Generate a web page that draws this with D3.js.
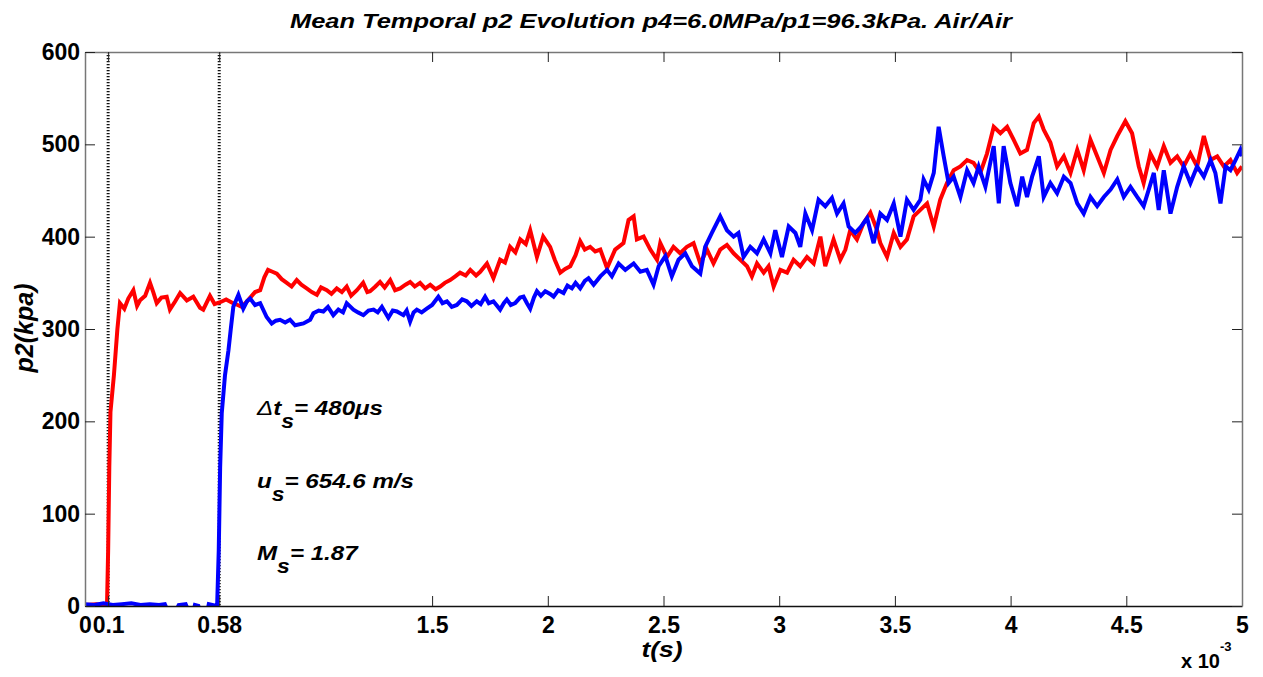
<!DOCTYPE html>
<html>
<head>
<meta charset="utf-8">
<script src="https://cdn.jsdelivr.net/npm/d3@7"></script>
<style>
  body { margin: 0; background: #fff; }
  svg { display: block; font-family: "Liberation Sans", Arial, sans-serif; }
  .tick text { font-size: 23px; font-weight: bold; fill: #000; }
</style>
</head>
<body>
<svg id="chart" width="1263" height="677"></svg>
<script>
// time in ms (axis shows x 10^-3 s), pressure in kPa
const redT = [0, 0.05, 0.095, 0.100, 0.105, 0.110, 0.125, 0.140, 0.151, 0.170, 0.187, 0.209, 0.225, 0.238, 0.260, 0.281, 0.295, 0.310, 0.330, 0.353, 0.367, 0.390, 0.411, 0.440, 0.468, 0.497, 0.511, 0.540, 0.560, 0.584, 0.610, 0.640, 0.660, 0.677, 0.700, 0.714, 0.735, 0.757, 0.775, 0.791, 0.810, 0.829, 0.850, 0.872, 0.893, 0.915, 0.935, 0.958, 0.980, 1.002, 1.020, 1.045, 1.065, 1.088, 1.110, 1.131, 1.150, 1.175, 1.202, 1.220, 1.232, 1.255, 1.275, 1.295, 1.319, 1.340, 1.362, 1.385, 1.405, 1.425, 1.448, 1.470, 1.492, 1.515, 1.535, 1.555, 1.578, 1.600, 1.621, 1.645, 1.665, 1.690, 1.708, 1.737, 1.765, 1.794, 1.815, 1.837, 1.860, 1.881, 1.905, 1.924, 1.953, 1.980, 2.010, 2.030, 2.054, 2.075, 2.097, 2.120, 2.140, 2.160, 2.183, 2.205, 2.227, 2.256, 2.291, 2.327, 2.349, 2.371, 2.385, 2.414, 2.443, 2.472, 2.486, 2.515, 2.543, 2.572, 2.601, 2.630, 2.659, 2.688, 2.716, 2.745, 2.774, 2.803, 2.832, 2.861, 2.882, 2.904, 2.933, 2.954, 2.976, 3.005, 3.034, 3.062, 3.091, 3.120, 3.149, 3.178, 3.199, 3.235, 3.264, 3.286, 3.307, 3.336, 3.365, 3.394, 3.423, 3.437, 3.466, 3.495, 3.524, 3.552, 3.581, 3.610, 3.639, 3.668, 3.696, 3.725, 3.754, 3.783, 3.812, 3.840, 3.869, 3.898, 3.927, 3.956, 3.985, 4.013, 4.042, 4.071, 4.100, 4.122, 4.143, 4.172, 4.201, 4.230, 4.259, 4.288, 4.316, 4.345, 4.374, 4.403, 4.432, 4.461, 4.496, 4.525, 4.554, 4.575, 4.604, 4.633, 4.662, 4.691, 4.720, 4.748, 4.777, 4.806, 4.835, 4.864, 4.893, 4.922, 4.950, 4.979, 5.000];
const redP = [1, 2, 0, 60, 150, 210, 250, 300, 328, 322, 333, 342, 325, 331, 336, 350, 340, 328, 334, 335, 321, 330, 339, 331, 335, 323, 321, 336, 327, 329, 332, 328, 326, 324, 330, 334, 340, 342, 356, 364, 362, 360, 354, 350, 346, 353, 348, 344, 340, 337, 345, 342, 338, 344, 340, 346, 336, 342, 350, 340, 341, 346, 351, 345, 353, 342, 344, 348, 351, 346, 350, 344, 348, 343, 346, 350, 353, 357, 361, 358, 364, 358, 362, 371, 355, 375, 372, 389, 383, 397, 392, 407, 378, 400, 389, 375, 361, 365, 368, 380, 395, 386, 389, 384, 386, 366, 386, 393, 418, 422, 397, 400, 386, 375, 393, 378, 389, 382, 389, 393, 371, 386, 371, 386, 391, 382, 375, 368, 357, 371, 361, 368, 346, 364, 361, 375, 368, 378, 371, 400, 368, 397, 375, 386, 407, 397, 415, 426, 407, 393, 378, 404, 389, 397, 422, 429, 436, 411, 440, 458, 472, 476, 483, 480, 469, 490, 519, 512, 519, 505, 490, 494, 523, 530, 516, 502, 476, 487, 469, 494, 472, 505, 487, 469, 494, 509, 525, 512, 476, 458, 490, 476, 498, 480, 487, 476, 490, 476, 509, 483, 487, 476, 483, 469, 476];

const blueT = [0, 0.04, 0.08, 0.12, 0.16, 0.20, 0.24, 0.28, 0.32, 0.345, 0.355, 0.395, 0.405, 0.435, 0.445, 0.470, 0.475, 0.490, 0.495, 0.530, 0.535, 0.555, 0.571, 0.578, 0.584, 0.591, 0.605, 0.620, 0.630, 0.641, 0.663, 0.684, 0.700, 0.714, 0.735, 0.757, 0.785, 0.807, 0.825, 0.843, 0.865, 0.886, 0.908, 0.944, 0.973, 0.987, 1.010, 1.030, 1.050, 1.073, 1.095, 1.115, 1.131, 1.160, 1.180, 1.203, 1.225, 1.247, 1.265, 1.283, 1.311, 1.330, 1.348, 1.376, 1.390, 1.405, 1.420, 1.434, 1.455, 1.477, 1.500, 1.527, 1.545, 1.564, 1.585, 1.607, 1.630, 1.650, 1.670, 1.693, 1.710, 1.729, 1.745, 1.765, 1.794, 1.810, 1.823, 1.840, 1.859, 1.880, 1.895, 1.910, 1.924, 1.940, 1.953, 1.970, 1.989, 2.010, 2.025, 2.045, 2.068, 2.085, 2.104, 2.120, 2.140, 2.160, 2.176, 2.198, 2.227, 2.256, 2.277, 2.306, 2.335, 2.371, 2.400, 2.428, 2.457, 2.479, 2.508, 2.536, 2.565, 2.594, 2.623, 2.659, 2.680, 2.709, 2.745, 2.774, 2.803, 2.824, 2.846, 2.875, 2.904, 2.933, 2.962, 2.983, 3.012, 3.041, 3.070, 3.091, 3.113, 3.142, 3.170, 3.199, 3.228, 3.250, 3.278, 3.300, 3.329, 3.351, 3.380, 3.408, 3.437, 3.466, 3.495, 3.524, 3.552, 3.581, 3.610, 3.624, 3.646, 3.668, 3.689, 3.711, 3.732, 3.754, 3.783, 3.812, 3.840, 3.862, 3.891, 3.927, 3.949, 3.970, 3.999, 4.028, 4.050, 4.071, 4.093, 4.122, 4.143, 4.172, 4.201, 4.230, 4.259, 4.288, 4.316, 4.345, 4.374, 4.403, 4.432, 4.461, 4.489, 4.518, 4.547, 4.575, 4.597, 4.619, 4.640, 4.662, 4.691, 4.720, 4.748, 4.777, 4.806, 4.835, 4.864, 4.885, 4.907, 4.929, 4.950, 4.972, 4.993, 5.000];
const blueP = [2, 1, 3, 1, 2, 3, 1, 2, 1, 2, -4, -4, 1, 2, -4, -4, 1, 0, -4, -4, 2, 1, 0, 60, 150, 209, 250, 277, 300, 324, 337, 322, 330, 333, 326, 328, 313, 306, 309, 310, 307, 310, 304, 306, 310, 317, 320, 319, 324, 315, 321, 318, 328, 321, 318, 315, 320, 321, 318, 324, 312, 320, 319, 315, 320, 308, 318, 321, 318, 322, 326, 335, 328, 330, 324, 326, 332, 330, 325, 330, 327, 335, 328, 330, 321, 328, 332, 326, 328, 334, 335, 328, 322, 334, 341, 336, 341, 338, 335, 342, 339, 347, 344, 350, 344, 352, 355, 348, 357, 364, 357, 371, 364, 371, 362, 364, 348, 368, 379, 357, 375, 382, 368, 360, 389, 404, 422, 407, 400, 404, 378, 389, 382, 397, 382, 407, 378, 411, 404, 389, 425, 407, 440, 433, 442, 425, 436, 411, 404, 410, 420, 393, 425, 418, 436, 400, 440, 429, 440, 462, 451, 469, 519, 487, 458, 465, 443, 472, 458, 476, 454, 498, 436, 498, 458, 433, 465, 443, 465, 487, 443, 458, 447, 465, 458, 436, 425, 443, 433, 443, 451, 462, 443, 454, 443, 433, 451, 469, 429, 472, 425, 454, 476, 458, 476, 465, 483, 469, 436, 476, 472, 483, 494, 487];

const xTicks = [0, 0.1, 0.58, 1.5, 2, 2.5, 3, 3.5, 4, 4.5, 5];
const xTickLabels = ["0", "0.1", "0.58", "1.5", "2", "2.5", "3", "3.5", "4", "4.5", "5"];
const yTicks = [0, 100, 200, 300, 400, 500, 600];
const markerTimes = [0.1, 0.58];

const titleText = "Mean Temporal p2 Evolution p4=6.0MPa/p1=96.3kPa. Air/Air";
const noteSymbols = ["t", "u", "M"];
const noteValues = ["= 480\u03bcs", "= 654.6 m/s", "= 1.87"];

const svg = d3.select('#chart');
const plotLeft = 85, plotRight = 1242, plotTop = 52, plotBottom = 606;

const x = d3.scaleLinear().domain([0, 5]).range([plotLeft, plotRight]);
const y = d3.scaleLinear().domain([0, 600]).range([plotBottom, plotTop]);

svg.append('defs').append('clipPath').attr('id', 'plot-clip')
  .append('rect')
  .attr('x', plotLeft).attr('y', plotTop)
  .attr('width', plotRight - plotLeft).attr('height', plotBottom - plotTop);

// dotted markers for arrival times
svg.append('g').selectAll('line')
  .data(markerTimes)
  .enter()
  .append('line')
  .attr('x1', d => x(d)).attr('x2', d => x(d))
  .attr('y1', plotTop).attr('y2', plotBottom)
  .attr('stroke', '#111')
  .attr('stroke-width', 3)
  .attr('stroke-dasharray', '1.2,1.8');

const line = d3.line()
  .x(d => x(d[0]))
  .y(d => y(d[1]));

const series = [
  { t: redT, p: redP, color: '#f00' },
  { t: blueT, p: blueP, color: '#00f' }
];

svg.append('g')
  .attr('clip-path', 'url(#plot-clip)')
  .selectAll('path')
  .data(series)
  .enter()
  .append('path')
  .attr('d', s => line(s.t.map((t, i) => [t, s.p[i]])))
  .attr('fill', 'none')
  .attr('stroke', s => s.color)
  .attr('stroke-width', 4)
  .attr('stroke-linejoin', 'miter');

// axes, MATLAB style: ticks pointing inward on all four sides
const xAxis = d3.axisBottom(x)
  .tickValues(xTicks)
  .tickFormat((d, i) => xTickLabels[i])
  .tickSizeInner(-10).tickSizeOuter(0).tickPadding(11);
const gx = svg.append('g').attr('transform', `translate(0,${plotBottom})`).call(xAxis);
gx.select('.domain').attr('stroke', '#111').attr('stroke-width', 1.5);

svg.append('g').attr('transform', `translate(0,${plotTop})`)
  .call(d3.axisTop(x).tickValues(xTicks).tickFormat('').tickSizeInner(-10).tickSizeOuter(0))
  .select('.domain').attr('stroke', '#777').attr('stroke-width', 1.5);

const gy = svg.append('g').attr('transform', `translate(${plotLeft},0)`)
  .call(d3.axisLeft(y).tickValues(yTicks).tickSizeInner(-10).tickSizeOuter(0).tickPadding(5));
gy.select('.domain').attr('stroke', '#777').attr('stroke-width', 1.5);

svg.append('g').attr('transform', `translate(${plotRight},0)`)
  .call(d3.axisRight(y).tickValues(yTicks).tickFormat('').tickSizeInner(-10).tickSizeOuter(0))
  .select('.domain').attr('stroke', '#777').attr('stroke-width', 1.5);

svg.selectAll('.tick line').attr('stroke', '#222');

// title and axis labels (the reference glyphs are a little wider than Arial)
svg.append('text')
  .attr('x', 651).attr('y', 28)
  .attr('text-anchor', 'middle')
  .attr('textLength', 722).attr('lengthAdjust', 'spacingAndGlyphs')
  .style('font-size', '21px').style('font-weight', 'bold').style('font-style', 'italic')
  .text(titleText);

svg.append('text')
  .attr('transform', 'translate(33,328) rotate(-90)')
  .attr('text-anchor', 'middle')
  .style('font-size', '25px').style('font-weight', 'bold').style('font-style', 'italic')
  .text('p2(kpa)');

svg.append('text')
  .attr('x', 662).attr('y', 657)
  .attr('text-anchor', 'middle')
  .attr('textLength', 41).attr('lengthAdjust', 'spacingAndGlyphs')
  .style('font-size', '22px').style('font-weight', 'bold').style('font-style', 'italic')
  .text('t(s)');

const mult = svg.append('text')
  .attr('x', 1181).attr('y', 668)
  .style('font-size', '20px').style('font-weight', 'bold');
mult.append('tspan').text('x 10');
mult.append('tspan').attr('dy', -17).style('font-size', '13px').text('-3');

// shock annotations
const noteY = [415, 488, 560];
const notes = svg.append('g')
  .attr('transform', 'translate(257,0) scale(1.15,1)')
  .style('font-size', '21px').style('font-weight', 'bold').style('font-style', 'italic');
noteSymbols.forEach((sym, i) => {
  const t = notes.append('text').attr('x', 0).attr('y', noteY[i]);
  if (i === 0) t.append('tspan').style('font-weight', 'normal').text('\u0394');
  t.append('tspan').text(sym);
  t.append('tspan').attr('dy', 13).style('font-size', '20px').text('s');
  t.append('tspan').attr('dy', -13).text(noteValues[i]);
});
</script>
</body>
</html>
